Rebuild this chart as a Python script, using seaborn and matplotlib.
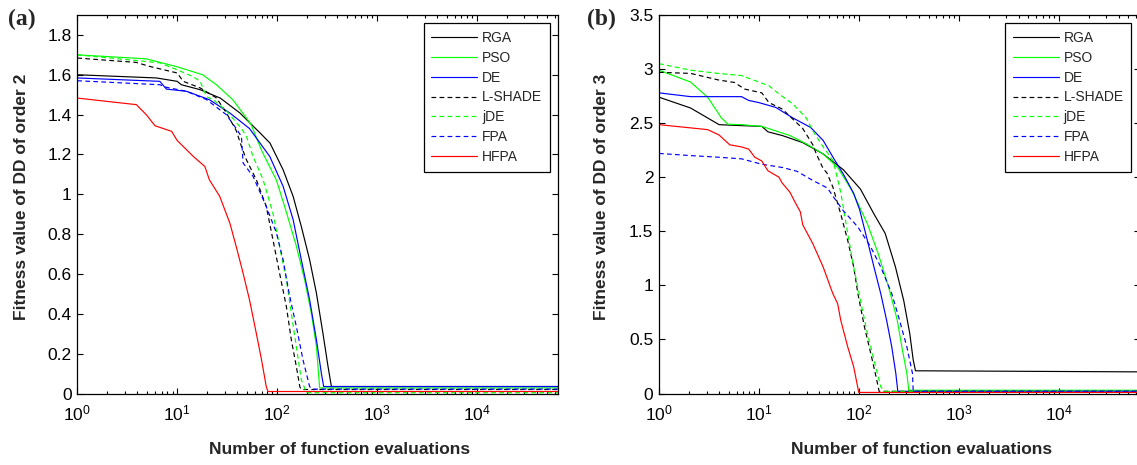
import numpy as np
import pandas as pd
import matplotlib
matplotlib.use("Agg")
import matplotlib.pyplot as plt
import seaborn as sns
from matplotlib import font_manager
from matplotlib.ticker import LogLocator, NullFormatter, FuncFormatter, FixedLocator

# ---------------- data ----------------
methods = ["RGA", "PSO", "DE", "L-SHADE", "jDE", "FPA", "HFPA"]
colors = ["#000000", "#00ff00", "#0000ff", "#000000", "#00ff00", "#0000ff", "#ff0000"]
styles = ["-", "-", "-", "--", "--", "--", "-"]

# (a) order 2
rga2_x = [1, 6.2, 10, 11, 17, 27, 42.5, 53, 67, 85, 115, 145, 175, 212, 248, 288, 324, 350, 65000]
rga2_y = [1.60, 1.584, 1.567, 1.55, 1.525, 1.483, 1.408, 1.36, 1.31, 1.257, 1.123, 0.989, 0.838, 0.671, 0.503, 0.302, 0.135, 0.035, 0.035]
pso2_x = [1, 4.9, 10, 18, 24.7, 36, 49, 55, 70, 98.7, 124, 156, 189, 221, 248, 267, 65000]
pso2_y = [1.70, 1.68, 1.64, 1.60, 1.55, 1.475, 1.385, 1.35, 1.22, 1.07, 0.91, 0.74, 0.57, 0.40, 0.235, 0.028, 0.028]
de2_x = [1, 6.7, 7.8, 12.4, 21, 33.7, 53, 84.5, 115, 145, 175, 212, 248, 278, 293, 65000]
de2_y = [1.584, 1.567, 1.528, 1.517, 1.475, 1.408, 1.33, 1.19, 1.04, 0.872, 0.671, 0.47, 0.269, 0.10, 0.035, 0.035]
lsh2_x = [1, 3.9, 5.3, 10, 11.5, 17, 24.8, 31, 39, 44, 49.4, 62, 78, 91, 106, 124, 139, 156, 169, 175, 65000]
lsh2_y = [1.684, 1.662, 1.642, 1.609, 1.567, 1.534, 1.483, 1.41, 1.32, 1.24, 1.173, 1.073, 0.939, 0.771, 0.604, 0.436, 0.269, 0.135, 0.034, 0.02, 0.02]
jde2_x = [1, 6.7, 10, 14.5, 17, 19.7, 23, 31, 44, 49.4, 57.5, 72.5, 91, 106, 124, 139, 156, 175, 197, 65000]
jde2_y = [1.70, 1.66, 1.625, 1.59, 1.567, 1.49, 1.475, 1.42, 1.33, 1.29, 1.19, 1.073, 0.905, 0.738, 0.57, 0.403, 0.235, 0.068, 0.004, 0.004]
fpa2_x = [1, 6.7, 7.8, 12.4, 19.7, 31, 39, 44, 45.7, 57.5, 78, 98.7, 115, 132, 156, 182, 212, 229, 65000]
fpa2_y = [1.57, 1.55, 1.537, 1.517, 1.475, 1.40, 1.33, 1.29, 1.157, 1.09, 0.939, 0.805, 0.671, 0.503, 0.336, 0.168, 0.034, 0.022, 0.022]
hfpa2_x = [1, 3.9, 4.9, 6.0, 8.8, 10, 14.5, 18.9, 21, 26.7, 33.7, 39, 45.7, 53, 62, 70, 78, 81, 65000]
hfpa2_y = [1.483, 1.45, 1.40, 1.344, 1.316, 1.27, 1.19, 1.14, 1.073, 0.989, 0.855, 0.738, 0.604, 0.47, 0.302, 0.168, 0.034, 0.01, 0.01]

# (b) order 3
rga3_x = [1, 2.07, 4.0, 6.7, 10.7, 12.3, 17.2, 27.5, 44, 70, 104, 142, 184, 233, 282, 324, 351, 370, 65000]
rga3_y = [2.74, 2.64, 2.486, 2.477, 2.47, 2.42, 2.385, 2.32, 2.215, 2.07, 1.89, 1.66, 1.48, 1.17, 0.86, 0.555, 0.31, 0.21, 0.20]
pso3_x = [1, 2.07, 3.07, 4.2, 4.9, 6.7, 10.7, 13.5, 20.5, 29.7, 44, 61.5, 85, 122, 157, 199, 243, 270, 303, 317, 65000]
pso3_y = [2.99, 2.88, 2.74, 2.55, 2.49, 2.486, 2.47, 2.44, 2.385, 2.31, 2.215, 2.09, 1.88, 1.57, 1.29, 0.985, 0.678, 0.432, 0.186, 0.03, 0.03]
de3_x = [1, 2.07, 6.7, 7.9, 10, 14.8, 21.7, 33, 44, 55.6, 70, 89, 102, 122, 142, 166, 190, 214, 235, 246, 65000]
de3_y = [2.78, 2.745, 2.745, 2.71, 2.69, 2.645, 2.55, 2.46, 2.34, 2.18, 2.03, 1.85, 1.70, 1.416, 1.17, 0.924, 0.678, 0.432, 0.186, 0.02, 0.02]
lsh3_x = [1, 2.07, 3.9, 5.7, 7.2, 10.7, 12.6, 17.2, 21.7, 27.5, 34.7, 37.6, 44, 48, 55, 66, 77.5, 89, 98, 114, 132, 149, 160, 65000]
lsh3_y = [2.97, 2.96, 2.90, 2.876, 2.815, 2.78, 2.69, 2.63, 2.54, 2.45, 2.30, 2.215, 2.08, 2.04, 1.91, 1.66, 1.416, 1.17, 0.924, 0.616, 0.37, 0.155, 0.02, 0.02]
jde3_x = [1, 2.07, 3.9, 6.7, 10, 12.6, 15.9, 21.7, 29.7, 34.7, 44, 55.6, 66, 77.5, 89, 104, 122, 142, 166, 180, 65000]
jde3_y = [3.05, 2.99, 2.96, 2.94, 2.88, 2.846, 2.77, 2.68, 2.55, 2.43, 2.28, 2.15, 1.86, 1.48, 1.17, 0.86, 0.555, 0.31, 0.063, 0.02, 0.02]
fpa3_x = [1, 2.07, 3.9, 6.7, 10.7, 17.2, 24, 34.7, 48.6, 55.6, 70, 98, 132, 166, 214, 256, 303, 345, 351, 65000]
fpa3_y = [2.22, 2.20, 2.185, 2.17, 2.12, 2.09, 2.055, 1.97, 1.90, 1.82, 1.69, 1.54, 1.354, 1.17, 0.924, 0.678, 0.432, 0.186, 0.02, 0.02]
hfpa3_x = [1, 3.07, 4.0, 5.1, 6.7, 7.9, 9.1, 10.7, 12.3, 15.9, 17, 20.5, 23, 26, 27.5, 34.7, 44, 55, 61.5, 66, 77.5, 89, 100, 65000]
hfpa3_y = [2.486, 2.44, 2.39, 2.30, 2.28, 2.26, 2.185, 2.15, 2.06, 2.0, 1.95, 1.86, 1.77, 1.68, 1.56, 1.385, 1.17, 0.924, 0.83, 0.678, 0.432, 0.247, 0.01, 0.01]

panel_a = [(rga2_x, rga2_y), (pso2_x, pso2_y), (de2_x, de2_y), (lsh2_x, lsh2_y),
           (jde2_x, jde2_y), (fpa2_x, fpa2_y), (hfpa2_x, hfpa2_y)]
panel_b = [(rga3_x, rga3_y), (pso3_x, pso3_y), (de3_x, de3_y), (lsh3_x, lsh3_y),
           (jde3_x, jde3_y), (fpa3_x, fpa3_y), (hfpa3_x, hfpa3_y)]

yticks_a = [0, 0.2, 0.4, 0.6, 0.8, 1.0, 1.2, 1.4, 1.6, 1.8]
yticks_b = [0, 0.5, 1.0, 1.5, 2.0, 2.5, 3.0, 3.5]
xlim = (1, 65000)
ylim_a = (0, 1.9)
ylim_b = (0, 3.5)
xlabel = "Number of function evaluations"
ylabel_a = "Fitness value of DD of order 2"
ylabel_b = "Fitness value of DD of order 3"

# ---------------- style ----------------
sns.set_theme(style="ticks")
plt.rcParams["font.family"] = ["Liberation Sans", "DejaVu Sans"]
plt.rcParams["mathtext.fontset"] = "custom"
plt.rcParams["mathtext.rm"] = "Liberation Sans"
plt.rcParams["mathtext.it"] = "Liberation Sans"
plt.rcParams["lines.dashed_pattern"] = [4.0, 2.8]

names = {f.name for f in font_manager.fontManager.ttflist}
label_family = "Liberation Sans Narrow" if "Liberation Sans Narrow" in names else "Liberation Sans"
label_size = 15.5 if label_family == "Liberation Sans Narrow" else 12.5

fig = plt.figure(figsize=(11.37, 4.65), dpi=100)
W, H = 1137.0, 465.0
ax_w = 480.7 / W
ax_h = 378.5 / H
ax_b = (H - 393.5) / H
ax1 = fig.add_axes([77.3 / W, ax_b, ax_w, ax_h])
ax2 = fig.add_axes([659.0 / W, ax_b, ax_w, ax_h])


def draw(ax, panel, ylim, yticks, ylabel, ylab_x):
    for (xs, ys), name, c, ls in zip(panel, methods, colors, styles):
        df = pd.DataFrame({"x": xs, "y": ys})
        sns.lineplot(data=df, x="x", y="y", ax=ax, color=c, linestyle=ls,
                     linewidth=0.85, label=name, sort=False, estimator=None)
    ax.set_xscale("log")
    ax.set_xlim(*xlim)
    ax.set_ylim(*ylim)
    ax.xaxis.set_major_locator(LogLocator(base=10, numticks=10))
    ax.xaxis.set_minor_locator(LogLocator(base=10, subs=np.arange(2, 10), numticks=20))
    ax.xaxis.set_minor_formatter(NullFormatter())
    ax.yaxis.set_major_locator(FixedLocator(yticks))
    ax.yaxis.set_major_formatter(FuncFormatter(lambda v, p: "%g" % v))
    ax.tick_params(which="both", direction="in", top=True, right=True,
                   width=0.8, colors="black")
    ax.tick_params(which="major", length=4.5, labelsize=12.5)
    ax.tick_params(which="minor", length=2.5)
    ax.tick_params(axis="x", which="major", pad=7)
    ax.tick_params(axis="y", which="major", pad=4)
    for s in ax.spines.values():
        s.set_visible(True)
        s.set_color("black")
        s.set_linewidth(0.9)
    ax.set_xlabel(xlabel, fontfamily=label_family, fontweight="bold", fontsize=label_size)
    ax.set_ylabel(ylabel, fontfamily=label_family, fontweight="bold", fontsize=label_size)
    ax.xaxis.set_label_coords(0.546, -0.128)
    ax.yaxis.set_label_coords(ylab_x, 0.52)
    ax.grid(False)
    leg = ax.legend(loc="upper right", bbox_to_anchor=(1.0, 1.0), borderaxespad=0.6,
                    fontsize=10, handlelength=3.3, handletextpad=0.35,
                    labelspacing=0.42, borderpad=0.55, fancybox=False, framealpha=1,
                    edgecolor="black")
    leg.get_frame().set_linewidth(0.9)


draw(ax1, panel_a, ylim_a, yticks_a, ylabel_a, -0.100)
draw(ax2, panel_b, ylim_b, yticks_b, ylabel_b, -0.104)

fig.text(8 / W, 1 - 19 / H, "(a)", family=["Liberation Serif", "DejaVu Serif"],
         fontweight="bold", fontsize=17, va="center", ha="left")
fig.text(587 / W, 1 - 19 / H, "(b)", family=["Liberation Serif", "DejaVu Serif"],
         fontweight="bold", fontsize=17, va="center", ha="left")

fig.savefig("out.png", dpi=100, facecolor="white")
